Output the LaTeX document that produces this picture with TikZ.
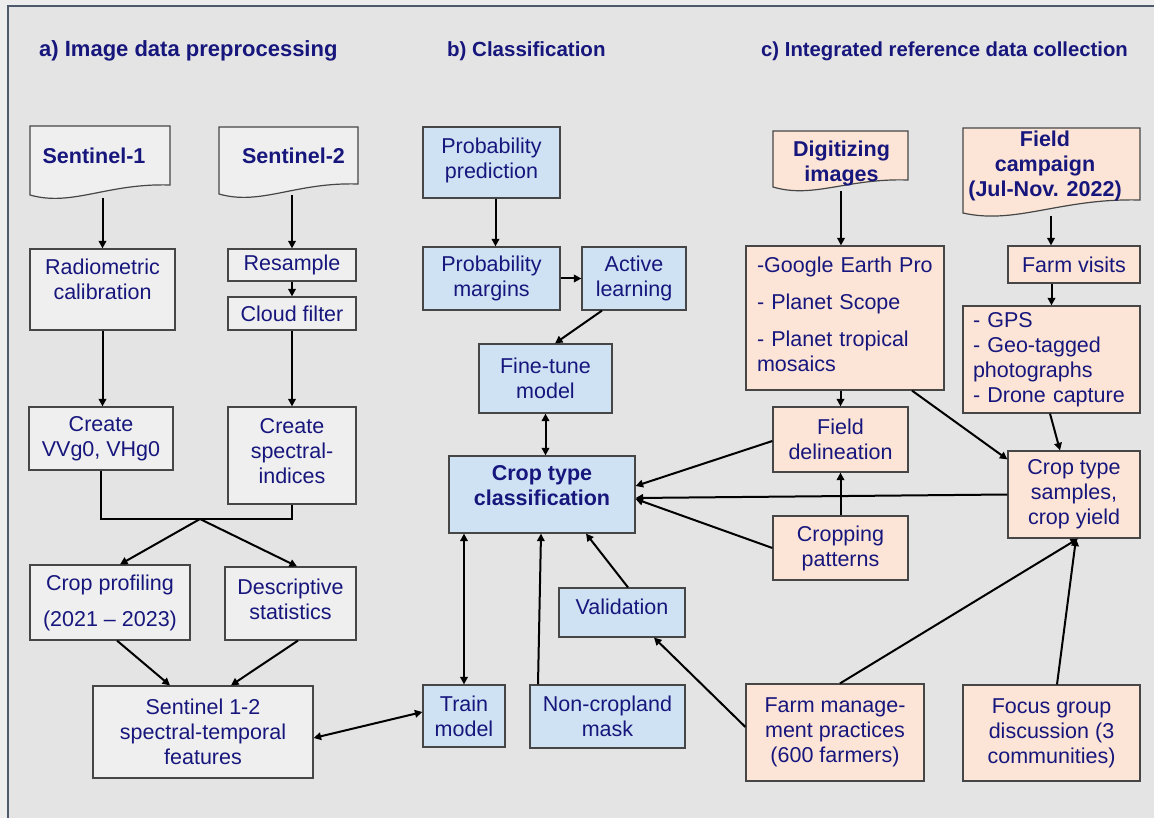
\documentclass[tikz,border=0pt]{standalone}
\usepackage{fontspec}
\setmainfont{Liberation Sans}
\usetikzlibrary{arrows.meta}
\definecolor{txt}{RGB}{22,22,125}
\definecolor{bgout}{RGB}{237,237,237}
\definecolor{bgin}{RGB}{228,228,228}
\definecolor{framec}{RGB}{78,89,108}
\definecolor{gfill}{RGB}{239,239,239}
\definecolor{bfill}{RGB}{207,226,243}
\definecolor{pfill}{RGB}{252,229,214}
\definecolor{edgec}{RGB}{70,70,70}
\newcommand\dfont{\fontsize{21.5}{25}\selectfont}
\newcommand\docshp[6]{%
 \filldraw[fill=#1, draw=edgec, line width=1.2pt] (#2,#4) -- (#3,#4) -- (#3,#5)
  .. controls ({#2+0.55*(#3-#2)},{#5-2}) and ({#2+0.3*(#3-#2)},{#6+12}) .. (#2,#6) -- cycle;}
\tikzset{
 base/.style={draw=edgec, line width=1.2pt, text=txt, font=\dfont, align=center, inner sep=0pt},
 gbox/.style={base, fill=gfill},
 bbox/.style={base, fill=bfill},
 pbox/.style={base, fill=pfill},
 sz/.style 2 args={minimum width=#1pt, minimum height=#2pt},
 doctxt/.style={text=txt, font=\dfont\bfseries, align=center, inner sep=0pt},
 conn/.style={line width=2pt, -{Triangle[length=7.5pt,width=7.5pt]}},
 dconn/.style={line width=2pt, {Triangle[length=7.5pt,width=7.5pt]}-{Triangle[length=7.5pt,width=7.5pt]}},
 ttl/.style={text=txt, font=\fontsize{22}{26}\selectfont\bfseries, anchor=base west, inner sep=0pt},
}
\begin{document}
\begin{tikzpicture}[x=1pt,y=-1pt]
\useasboundingbox (0,0) rectangle (1154,818);
\fill[bgout] (0,0) rectangle (1154,818);
\fill[bgin] (8,6) rectangle (1154,818);
\draw[framec, line width=2.5pt] (8,818) -- (8,6) -- (1154,6);

% titles
\node[ttl] (ta) at (39,57) {a) Image data preprocessing};
\node[ttl, font=\fontsize{20.5}{24}\selectfont\bfseries] (tb) at (447,57) {b) Classification};
\node[ttl, font=\fontsize{20.3}{24}\selectfont\bfseries] (tc) at (761,57) {c) Integrated reference data collection};

% ---- a) ----
\docshp{gfill}{30}{170}{126}{185}{195}
\node[doctxt] (s1) at (94,155.5) {Sentinel-1};
\coordinate (s1b) at (102.5,198);
\docshp{gfill}{219}{358}{127}{184}{194}
\node[doctxt] (s2) at (293.5,155.5) {Sentinel-2};
\coordinate (s2b) at (292,195);

\node[gbox, sz={145}{81}, text depth=21pt] (radio) at (102.5,289.5) {Radiometric\\calibration};
\node[gbox, sz={128}{32}] (resample) at (292,265) {Resample};
\node[gbox, sz={128}{33}] (cloud) at (292,313.5) {Cloud filter};
\node[gbox, sz={144}{63}] (vv) at (101,438.5) {Create\\VVg0, VHg0};
\node[gbox, sz={128}{97}, text depth=9pt] (spec) at (292,455.5) {Create\\spectral-\\indices};
\coordinate (join) at (200,519);
\node[gbox, sz={160}{75}] (cprof) at (110,602.5) {Crop profiling\\[11pt](2021 \textendash{} 2023)};
\node[gbox, sz={131}{73}, text depth=8pt] (desc) at (290.5,603.5) {Descriptive\\statistics};
\node[gbox, sz={220}{92}] (feat) at (203,732) {Sentinel 1-2\\spectral-temporal\\features};

\draw[conn] (s1b) -- (radio.north);
\draw[conn] (s2b) -- (resample.north);
\draw[conn] (resample.south) -- (cloud.north);
\draw[conn] (radio.south) -- (radio.south |- vv.north);
\draw[conn] (cloud.south) -- (spec.north);
\draw[line width=2.8pt] (vv.south) |- (join) -| (spec.south);
\draw[conn] (join) -- ([xshift=10pt]cprof.north);
\draw[conn] (join) -- ([xshift=6.5pt]desc.north);
\draw[conn] ([xshift=7pt]cprof.south) -- ([xshift=-33pt]feat.north);
\draw[conn] ([xshift=7.5pt]desc.south) -- ([xshift=28pt]feat.north);

% ---- b) ----
\node[bbox, sz={137}{71}, text depth=8pt] (pp) at (491.5,162.5) {Probability\\prediction};
\node[bbox, sz={137}{63}] (pm) at (491.5,278.5) {Probability\\margins};
\node[bbox, sz={104}{63}] (al) at (634,278.5) {Active\\learning};
\node[bbox, sz={133}{69}] (ft) at (545.5,378.5) {Fine-tune\\model};
\node[bbox, sz={186}{77}, font=\dfont\bfseries, text depth=18pt] (ctc) at (542,494.5) {Crop type\\classification};
\node[bbox, sz={126}{49}, text depth=12pt] (val) at (622,612.5) {Validation};
\node[bbox, sz={82}{62}] (train) at (464,716) {Train\\model};
\node[bbox, sz={155}{63}] (ncm) at (607.5,716.5) {Non-cropland\\mask};

\draw[dconn] ([yshift=-6pt]feat.east) -- ([yshift=4pt]train.west);
\draw[conn] ([xshift=4pt]pp.south) -- ([xshift=4pt]pm.north);
\draw[conn] (pm.east) -- (al.west);
\draw[conn] ([xshift=-32pt]al.south) -- ([xshift=9.5pt]ft.north);
\draw[dconn] (ft.south) -- (ft.south |- ctc.north);
\draw[dconn] (train.north |- ctc.south) -- (train.north);
\draw[conn] ([xshift=-69.5pt]ncm.north) -- ([xshift=-1pt]ctc.south);
\draw[conn] ([xshift=6pt]val.north) -- ([xshift=44pt]ctc.south);

% ---- c) ----
\docshp{pfill}{773}{908}{131}{180}{187}
\node[doctxt] (dig) at (841.5,163) {Digitizing\\images};
\coordinate (digb) at (841,191);
\docshp{pfill}{963}{1140}{128}{200}{213}
\node[doctxt] (fc) at (1045,166) {Field\\campaign\\(Jul-Nov. 2022)};
\coordinate (fcb) at (1051,216);

\node[pbox, sz={198}{144}, text width=176pt, align=left, inner xsep=11pt, text depth=107pt] (ge) at (845,318)
 {-Google Earth Pro\\[12pt]- Planet Scope\\[12pt]- Planet tropical\\mosaics};
\node[pbox, sz={132}{37}] (fv) at (1074,264.5) {Farm visits};
\node[pbox, sz={177}{107}, text width=157pt, align=left, inner xsep=10pt] (gps) at (1051.5,359.5)
 {- GPS\\- Geo-tagged\\photographs\\- Drone capture};
\node[pbox, sz={135}{65}] (fd) at (840.5,439.5) {Field\\delineation};
\node[pbox, sz={132}{87}] (cts) at (1074,494.5) {Crop type\\samples,\\crop yield};
\node[pbox, sz={135}{64}] (cp) at (840.5,548) {Cropping\\patterns};
\node[pbox, sz={178}{97}] (fm) at (835,732.5) {Farm manage-\\ment practices\\(600 farmers)};
\node[pbox, sz={177}{96}] (fg) at (1051.5,733) {Focus group\\discussion (3\\communities)};

\draw[conn] (digb) -- (digb |- ge.north);
\draw[conn] (fcb) -- (fcb |- fv.north);
\draw[conn] (gps.north |- fv.south) -- (gps.north);
\draw[conn] (fd.north |- ge.south) -- (fd.north);
\draw[conn] ([xshift=67pt]ge.south) -- ([yshift=-9pt]cts.north west);
\draw[conn] ([xshift=-1.5pt]gps.south) -- ([xshift=-14pt]cts.north);
\draw[conn] (cp.north) -- (fd.south);
\draw[conn] ([yshift=-1.5pt]fd.west) -- ([yshift=8.5pt]ctc.east);
\draw[conn] (cts.west) -- ([yshift=-3.5pt]ctc.east);
\draw[conn] (cp.west) -- ([yshift=-4.5pt]ctc.east);
\draw[conn] ([yshift=5.5pt]fm.west) -- ([xshift=32pt]val.south);
\draw[conn] ([xshift=5pt]fm.north) -- ([xshift=4pt]cts.south);
\draw[conn] ([xshift=5.5pt]fg.north) -- ([xshift=2pt]cts.south);
\end{tikzpicture}
\end{document}
